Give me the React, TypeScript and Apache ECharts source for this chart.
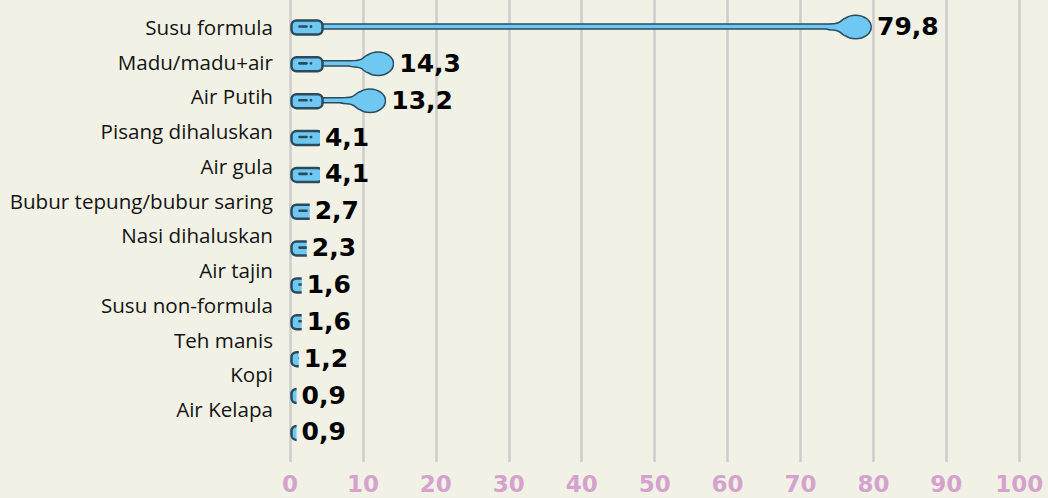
import React, { useEffect, useRef } from "react";
import * as echarts from "echarts";

const categories = [
  "Susu formula",
  "Madu/madu+air",
  "Air Putih",
  "Pisang dihaluskan",
  "Air gula",
  "Bubur tepung/bubur saring",
  "Nasi dihaluskan",
  "Air tajin",
  "Susu non-formula",
  "Teh manis",
  "Kopi",
  "Air Kelapa",
];
const values = [79.8, 14.3, 13.2, 4.1, 4.1, 2.7, 2.3, 1.6, 1.6, 1.2, 0.9, 0.9];
const xTicks = { min: 0, max: 100, interval: 10 };

const BG = "#f1f2e5";
const FILL = "#6fc8f1";
const DARK = "#2b4b5d";

export default function App() {
  const ref = useRef<HTMLDivElement>(null);
  useEffect(() => {
    if (!ref.current) return;
    const chart = echarts.init(ref.current, null, { renderer: "svg" });
    const renderItem = (params: any, api: any) => {
      const v = api.value(0);
      const idx = api.value(1);
      const p0 = api.coord([0, idx]);
      const p1 = api.coord([v, idx]);
      const x0 = p0[0];
      const cy = p0[1];
      const x1 = p1[0];
      const len = x1 - x0;
      const hx = x0 + 1.5;
      const HW = 31;
      const spoon: any[] = [];
      if (len > HW + 4) {
        const rx = 14.8;
        const ry = 11;
        const bcx = x1 - rx - 1.5;
        const bl = bcx - rx;
        const stemShape = { x: hx + HW - 3, y: cy - 2.8, width: Math.max(0, bl - (hx + HW - 3) + 4), height: 3.6 };
        const neckPts = [
          [bl - 14, cy - 1.8],
          [bl - 3, cy - 3.8],
          [bl + 5, cy - 8],
          [bl + 5, cy + 7],
          [bl - 3, cy + 2.8],
          [bl - 14, cy + 0.8],
        ];
        const outline = { fill: DARK, stroke: DARK, lineWidth: 3, lineJoin: "round" };
        const inner = { fill: FILL, stroke: null, lineWidth: 0 };
        spoon.push(
          { type: "rect", shape: stemShape, style: outline },
          { type: "polygon", shape: { points: neckPts, smooth: 0.4 }, style: outline },
          { type: "ellipse", shape: { cx: bcx, cy: cy - 0.5, rx, ry }, style: outline },
          { type: "rect", shape: stemShape, style: inner },
          { type: "polygon", shape: { points: neckPts, smooth: 0.4 }, style: inner },
          { type: "ellipse", shape: { cx: bcx, cy: cy - 0.5, rx, ry }, style: inner }
        );
      }
      spoon.push(
        {
          type: "rect",
          shape: { x: hx, y: cy - 7, width: HW, height: 14, r: 5 },
          style: { fill: FILL, stroke: DARK, lineWidth: 2.5 },
        },
        {
          type: "line",
          shape: { x1: hx + 8, y1: cy - 1, x2: hx + 15, y2: cy - 1 },
          style: { stroke: DARK, lineWidth: 2.6, lineCap: "round" },
        },
        {
          type: "circle",
          shape: { cx: hx + 19.5, cy: cy - 1, r: 1.4 },
          style: { fill: DARK },
        }
      );
      return {
        type: "group",
        children: [
          {
            type: "group",
            children: spoon,
            clipPath: { type: "rect", shape: { x: x0 - 6, y: cy - 22, width: len + 6, height: 44 } },
          },
          {
            type: "text",
            x: x1 + 5,
            y: cy - 1,
            style: {
              text: v.toFixed(1).replace(".", ","),
              fill: "#000",
              font: "bold 25px 'DejaVu Sans'",
              verticalAlign: "middle",
              align: "left",
            },
          },
        ],
      };
    };

    chart.setOption({
      animation: false,
      backgroundColor: BG,
      grid: [
        { left: 290, right: 28.7, top: 0, bottom: 36 },
        { left: 273, right: 774, top: 9.65, bottom: 71.65 },
      ],
      xAxis: [
        {
          gridIndex: 0,
          type: "value",
          min: xTicks.min,
          max: xTicks.max,
          interval: xTicks.interval,
          axisLine: { show: false },
          axisTick: { show: false },
          splitLine: { show: true, lineStyle: { color: "#cdcdcd", width: 2.5 } },
          axisLabel: {
            color: "#d5a2ce",
            fontFamily: "DejaVu Sans",
            fontWeight: "bold",
            fontSize: 23,
            margin: 10,
          },
        },
        { gridIndex: 1, type: "value", show: false },
      ],
      yAxis: [
        { gridIndex: 0, type: "value", inverse: true, min: -0.746, max: 11.79, show: false },
        {
          gridIndex: 1,
          type: "category",
          inverse: true,
          data: categories,
          axisLine: { show: false },
          axisTick: { show: false },
          splitLine: { show: false },
          axisLabel: {
            color: "#141414",
            fontFamily: "Open Sans",
            fontSize: 20.6,
            margin: 0,
          },
        },
      ],
      series: [
        {
          type: "custom",
          xAxisIndex: 0,
          yAxisIndex: 0,
          clip: false,
          renderItem,
          encode: { x: 0, y: 1 },
          data: values.map((v, i) => [v, i]),
        },
      ],
    });
    return () => chart.dispose();
  }, []);
  return (
    <div
      ref={ref}
      style={{ position: "fixed", left: 0, top: 0, width: 1048, height: 498, background: BG }}
    />
  );
}
